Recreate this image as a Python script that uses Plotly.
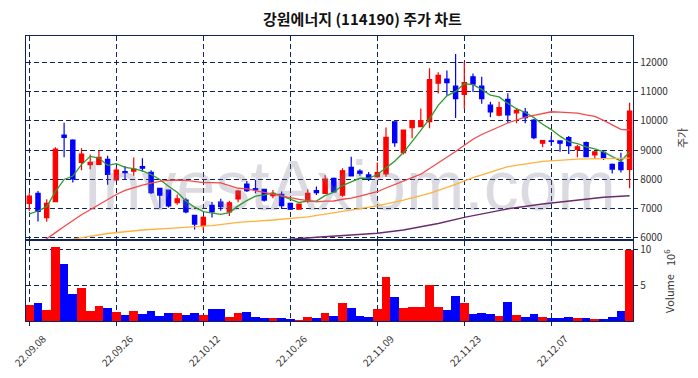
import plotly.graph_objects as go

# ---------------- data ----------------
dates = ["22.09.08", "22.09.13", "22.09.14", "22.09.15", "22.09.16", "22.09.19", "22.09.20",
         "22.09.21", "22.09.22", "22.09.23", "22.09.26", "22.09.27", "22.09.28", "22.09.29",
         "22.09.30", "22.10.04", "22.10.05", "22.10.06", "22.10.07", "22.10.11", "22.10.12",
         "22.10.13", "22.10.14", "22.10.17", "22.10.18", "22.10.19", "22.10.20", "22.10.21",
         "22.10.24", "22.10.25", "22.10.26", "22.10.27", "22.10.28", "22.10.31", "22.11.01",
         "22.11.02", "22.11.03", "22.11.04", "22.11.07", "22.11.08", "22.11.09", "22.11.10",
         "22.11.11", "22.11.14", "22.11.15", "22.11.16", "22.11.17", "22.11.18", "22.11.21",
         "22.11.22", "22.11.23", "22.11.24", "22.11.25", "22.11.28", "22.11.29", "22.11.30",
         "22.12.01", "22.12.02", "22.12.05", "22.12.06", "22.12.07", "22.12.08", "22.12.09",
         "22.12.12", "22.12.13", "22.12.14", "22.12.15", "22.12.16", "22.12.19", "22.12.20"]

open_ = [7180, 7520, 6690, 7235, 9510, 9340, 8580, 8500, 8510, 8680,
         7980, 8260, 8280, 8430, 8240, 7690, 7635, 7200, 7290, 6770,
         6430, 7110, 7220, 6890, 7330, 7840, 7680, 7660, 7440, 7490,
         7180, 6980, 7260, 7610, 7520, 8030, 7460, 8410, 8280, 8150,
         8090, 8180, 9960, 8910, 9760, 9800, 9970, 11280, 11420, 11180,
         10900, 11500, 11180, 10530, 10190, 10730, 10270, 10290, 10020, 9230,
         9310, 9310, 9420, 9020, 9250, 8830, 8920, 8510, 8580, 8340]
high = [7520, 7600, 7320, 9090, 9930, 9370, 9060, 8850, 8980, 8800,
        8400, 8450, 8740, 8720, 8310, 7700, 7640, 7480, 7350, 6770,
        6750, 7225, 7340, 7270, 7635, 7940, 7976, 7680, 7635, 7580,
        7200, 7170, 7660, 7750, 8140, 8060, 8380, 8770, 8340, 8250,
        8570, 9770, 9960, 9700, 10020, 10420, 11790, 11650, 11710, 12280,
        12010, 11610, 11500, 10650, 10650, 10940, 10400, 10430, 10060, 9320,
        9470, 9330, 9480, 9170, 9290, 8940, 9000, 8540, 8910, 10610]
low = [6920, 6560, 6550, 7235, 8750, 7890, 8310, 8340, 8490, 7810,
       7950, 7976, 8120, 8260, 7500, 7010, 7040, 7130, 6840, 6290,
       6270, 6700, 6930, 6750, 7215, 7570, 7520, 7240, 7350, 6990,
       6950, 6960, 7200, 7460, 7500, 7550, 7400, 8110, 8120, 7940,
       8050, 8090, 9110, 8850, 9400, 9790, 9740, 10930, 10850, 10090,
       10410, 10980, 10580, 10120, 10150, 9930, 9910, 9910, 9370, 9090,
       9140, 8940, 8860, 8750, 8770, 8690, 8660, 8200, 8230, 7690]
close = [7430, 6900, 7180, 9030, 9430, 8010, 8860, 8580, 8750, 8170,
         8310, 8230, 8350, 8380, 7540, 7460, 7090, 7330, 6890, 6470,
         6700, 6890, 7070, 7200, 7600, 7610, 7640, 7290, 7520, 7100,
         6980, 7150, 7520, 7540, 8010, 7570, 8290, 8120, 8200, 8000,
         8230, 9430, 9250, 9680, 10000, 10000, 11400, 11550, 11300, 10750,
         11300, 11250, 10750, 10300, 10450, 10200, 10350, 10100, 9420, 9320,
         9290, 9230, 9150, 9110, 8770, 8940, 8720, 8350, 8330, 10330]
volume = [2.23e6, 2.56e6, 1.53e6, 10.37e6, 7.95e6, 3.77e6, 4.60e6, 1.39e6, 2.09e6, 1.81e6,
          1.26e6, 0.84e6, 1.39e6, 0.98e6, 1.39e6, 0.70e6, 1.12e6, 1.12e6, 0.84e6, 1.12e6,
          0.84e6, 1.67e6, 1.67e6, 0.56e6, 1.12e6, 1.26e6, 0.56e6, 0.42e6, 0.42e6, 0.42e6,
          0.28e6, 0.14e6, 0.56e6, 0.42e6, 1.12e6, 0.70e6, 2.51e6, 1.81e6, 0.70e6, 0.56e6,
          1.67e6, 6.14e6, 3.35e6, 1.81e6, 1.95e6, 1.95e6, 5.00e6, 1.95e6, 1.53e6, 3.49e6,
          2.51e6, 0.98e6, 1.12e6, 0.98e6, 0.70e6, 2.65e6, 0.84e6, 0.56e6, 0.98e6, 0.56e6,
          0.42e6, 0.42e6, 0.56e6, 0.42e6, 0.42e6, 0.28e6, 0.28e6, 0.56e6, 1.39e6, 9.90e6]

ma5 = [6816, 6918, 7065, 7577, 7994, 8110, 8502, 8782, 8726, 8474,
       8534, 8408, 8362, 8288, 8162, 7992, 7764, 7560, 7262, 7048,
       6896, 6856, 6804, 6866, 7092, 7274, 7424, 7468, 7532, 7432,
       7306, 7208, 7254, 7258, 7440, 7558, 7786, 7906, 8038, 8036,
       8162, 8390, 8616, 8912, 9312, 9672, 10066, 10526, 10850, 11000,
       11260, 11230, 11070, 10870, 10810, 10590, 10410, 10280, 10104, 9878,
       9696, 9472, 9282, 9220, 9110, 9040, 8938, 8778, 8622, 8934]
ma20 = [5550, 5750, 5960, 6180, 6390, 6600, 6790, 6960, 7140, 7320,
        7480, 7620, 7720, 7800, 7870, 7930, 7960, 7975, 7960, 7920,
        7883, 7883, 7877, 7786, 7694, 7674, 7613, 7549, 7487, 7434,
        7367, 7313, 7272, 7230, 7253, 7259, 7319, 7358, 7424, 7500,
        7575, 7702, 7811, 7935, 8055, 8175, 8363, 8576, 8765, 8947,
        9163, 9368, 9530, 9668, 9790, 9921, 10024, 10123, 10184, 10250,
        10305, 10295, 10290, 10261, 10200, 10147, 10013, 9853, 9704, 9683]
ma60_idx = [3, 5, 9, 13, 17, 21, 24, 28, 32, 35, 40, 43, 46, 49, 51, 55, 59, 63, 66, 69]
ma60 = [5880, 5960, 6150, 6270, 6340, 6420, 6530, 6610, 6720, 6860,
        7090, 7290, 7520, 7830, 8060, 8430, 8610, 8690, 8700, 8720]
ma120_idx = [27, 30, 33, 37, 40, 43, 47, 50, 55, 59, 63, 66, 69]
ma120 = [5880, 5960, 6020, 6100, 6160, 6270, 6490, 6700, 6990, 7160, 7290, 7390, 7440]

price_ticks = [6000, 7000, 8000, 9000, 10000, 11000, 12000]
vol_ticks = [5e6, 10e6]
vol_tick_text = ["5", "10"]
title_text = "강원에너지 (114190) 주가 차트"
watermark = "InvestAxiom.com"

# ---------------- figure ----------------
NAVY = "#0f2357"
RED = "#ff0000"
BLUE = "#0000ff"
x = list(range(len(dates)))
tick_idx = x[::10]

fig = go.Figure()

fig.add_trace(go.Scatter(x=[36.8], y=[7560], mode="text", text=[watermark],
                         textfont=dict(family="Liberation Sans", size=70,
                                       color="rgba(120,120,140,0.27)"),
                         hoverinfo="skip", showlegend=False, cliponaxis=False,
                         xaxis="x", yaxis="y"))

fig.add_trace(go.Candlestick(
    x=x, open=open_, high=high, low=low, close=close,
    increasing=dict(line=dict(color=RED, width=1.2), fillcolor=RED),
    decreasing=dict(line=dict(color=BLUE, width=1.2), fillcolor=BLUE),
    whiskerwidth=0, showlegend=False, xaxis="x", yaxis="y"))

for ys, xs, col, w in [(ma5, x, "#2f9a2f", 1.3), (ma20, x, "#f24a4a", 1.3),
                       (ma60, ma60_idx, "#ffb13c", 1.3), (ma120, ma120_idx, "#6a2a6e", 1.5)]:
    fig.add_trace(go.Scatter(x=xs, y=ys, mode="lines", line=dict(color=col, width=w),
                             hoverinfo="skip", showlegend=False, xaxis="x", yaxis="y"))

vol_colors = [RED if c >= o else BLUE for o, c in zip(open_, close)]
fig.add_trace(go.Bar(x=x, y=volume, marker=dict(color=vol_colors, line=dict(width=0)),
                     width=1.0, showlegend=False, xaxis="x2", yaxis="y2"))

# The page body has an 8px default margin: figure is 690x370 placed at (8, 8)
W, H = 690, 370
ML, MR, MT, MB = 18, 65, 28, 57
PW, PH = W - ML - MR, H - MT - MB


def px_x(px):  # page pixel -> paper x
    return (px - 8 - ML) / PW


def px_y(py):  # page pixel -> paper y
    return (H - MB - (py - 8)) / PH


TICKFONT = dict(family="Noto Sans CJK KR", size=10, color="#333333")
common_x = dict(range=[-0.38, 69.39], tickmode="array", tickvals=tick_idx,
                showgrid=True, gridcolor=NAVY, gridwidth=1, griddash="5px,3px",
                showline=True, mirror=True, linecolor=NAVY, linewidth=1.3,
                zeroline=False, showticklabels=False)
fig.update_layout(
    width=W, height=H,
    margin=dict(l=ML, r=MR, t=MT, b=MB, autoexpand=False),
    paper_bgcolor="white", plot_bgcolor="white",
    bargap=0,
    xaxis=dict(domain=[0, 1], anchor="y", ticks="", rangeslider=dict(visible=False), **common_x),
    xaxis2=dict(domain=[0, 1], anchor="y2", matches="x", ticks="outside", ticklen=4,
                tickcolor=NAVY, tickwidth=1, **common_x),
    yaxis=dict(domain=[px_y(239), 1], anchor="x", side="right", range=[5962, 12891],
               tickmode="array", tickvals=price_ticks, ticktext=[str(v) for v in price_ticks],
               ticks="outside", ticklen=4, tickcolor=NAVY, tickfont=TICKFONT,
               showgrid=True, gridcolor=NAVY, gridwidth=1, griddash="5px,3px",
               showline=True, mirror=True, linecolor=NAVY, linewidth=1.3, zeroline=False),
    yaxis2=dict(domain=[0, px_y(241)], anchor="x2", side="right", range=[0, 11.16e6],
                tickmode="array", tickvals=vol_ticks, ticktext=vol_tick_text,
                ticks="outside", ticklen=4, tickcolor=NAVY, tickfont=TICKFONT,
                showgrid=True, gridcolor=NAVY, gridwidth=1, griddash="5px,3px",
                showline=True, mirror=True, linecolor=NAVY, linewidth=1.3, zeroline=False),
)

ann = [
    dict(text=title_text, x=px_x(362), y=px_y(18), xref="paper", yref="paper",
         showarrow=False, xanchor="center", yanchor="middle",
         font=dict(family="Noto Sans CJK KR", size=15, color="#111111", weight="bold")),
    dict(text="주가", x=px_x(682), y=px_y(138), xref="paper", yref="paper", textangle=-90,
         showarrow=False, xanchor="center", yanchor="middle",
         font=dict(family="Noto Sans CJK KR", size=11, color="#333333")),
    dict(text="Volume", x=px_x(669), y=px_y(294), xref="paper", yref="paper", textangle=-90,
         showarrow=False, xanchor="center", yanchor="middle",
         font=dict(family="Noto Sans CJK KR", size=11, color="#333333")),
    dict(text="10<sup>6</sup>", x=px_x(669), y=px_y(258), xref="paper", yref="paper",
         textangle=-90, showarrow=False, xanchor="center", yanchor="middle",
         font=dict(family="Noto Sans CJK KR", size=11, color="#333333")),
]
for i in tick_idx:
    ann.append(dict(text=dates[i], x=i, y=px_y(350), xref="x2", yref="paper", textangle=-45,
                    showarrow=False, xanchor="center", yanchor="middle", font=TICKFONT))
fig.update_layout(annotations=ann)

fig.write_html("out.html")
